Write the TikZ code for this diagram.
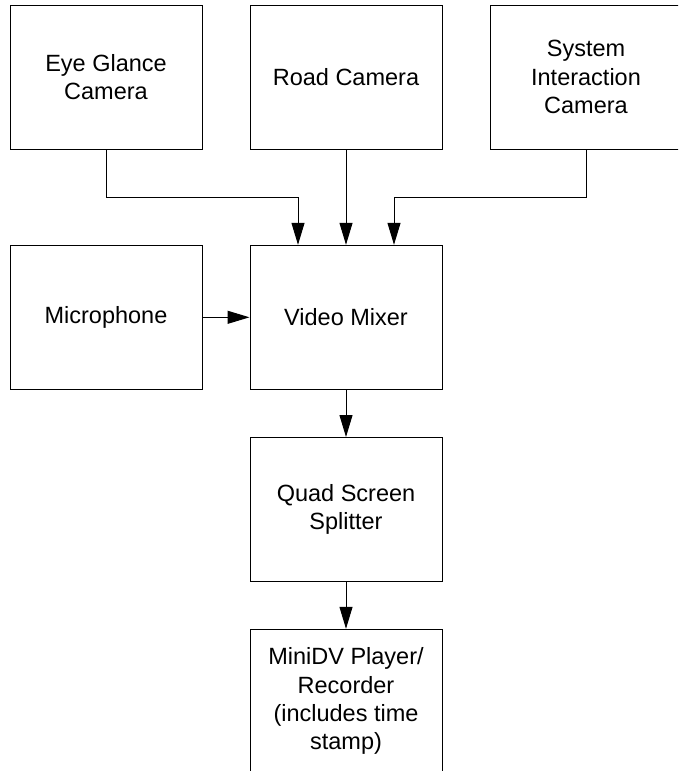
\documentclass[tikz,border=0pt]{standalone}
\usepackage{fontspec}
\setmainfont{Liberation Sans}
\usetikzlibrary{arrows.meta}
\begin{document}
\begin{tikzpicture}[x=1pt,y=-1pt,
  blockbox/.style={draw=black, line width=1pt, minimum width=192pt, minimum height=144pt,
    inner sep=0pt, align=center, font=\fontsize{23.5pt}{28.3pt}\selectfont},
  arr/.style={draw=black, line width=1pt, -{Triangle[length=22pt,width=13pt]}}]
\clip (0,0) rectangle (678,771);
\fill[white] (0,0) rectangle (678,771);
\node[blockbox] (eye)   at (106,77.2)  {Eye Glance\\Camera};
\node[blockbox] (road)  at (346,77.2)  {Road Camera};
\node[blockbox] (sys)   at (586,77.2)  {System\\Interaction\\Camera};
\node[blockbox] (mic)   at (106,317.3) {Microphone};
\node[blockbox] (mixer) at (346,317.3) {Video Mixer};
\node[blockbox] (quad)  at (346,509.5) {Quad Screen\\Splitter};
\node[blockbox] (mini)  at (346,701.3) {MiniDV Player/\\Recorder\\(includes time\\stamp)};
\coordinate (bus) at (0,197.3);
\draw[arr] (eye.south) -- (eye.south |- bus) -| ([xshift=-48pt]mixer.north);
\draw[arr] (road.south) -- (mixer.north);
\draw[arr] (sys.south) -- (sys.south |- bus) -| ([xshift=48pt]mixer.north);
\draw[arr] (mic.east) -- (mixer.west);
\draw[arr] (mixer.south) -- (quad.north);
\draw[arr] (quad.south) -- (mini.north);
\end{tikzpicture}
\end{document}
